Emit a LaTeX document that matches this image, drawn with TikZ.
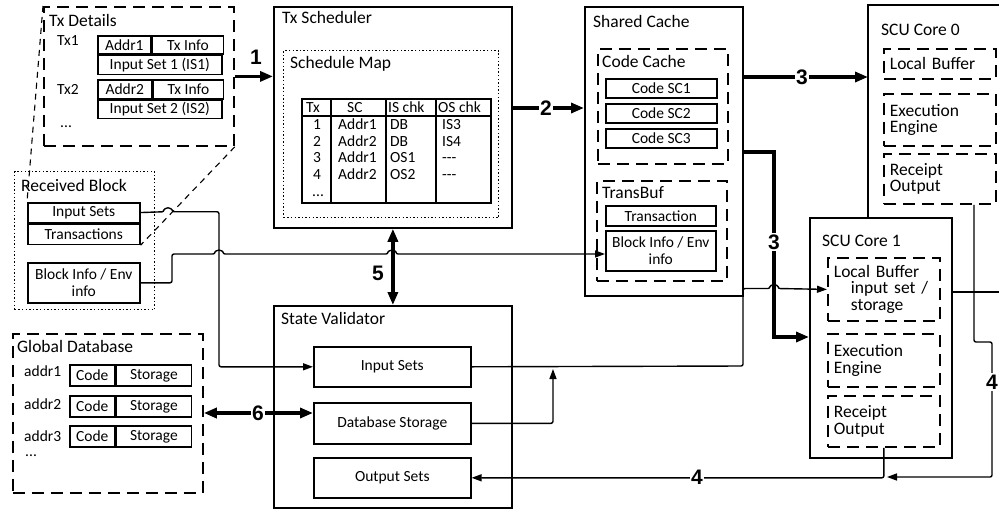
\documentclass[tikz,border=0pt]{standalone}
\usepackage{fontspec}
\setmainfont{Carlito}
\newfontfamily\numfont{Liberation Sans}
\usetikzlibrary{arrows.meta, positioning, calc}
\newcommand{\nodash}{-{}-{}-}
\tikzset{
  frame/.style={rectangle, draw=black, line width=1.8pt, fill=white, inner sep=0pt},
  dframe/.style={rectangle, draw=black, line width=1.8pt, dash pattern=on 12pt off 7pt,
                 inner sep=0pt},
  oframe/.style={rectangle, draw=black, line width=1.4pt, dash pattern=on 1.4pt off 2.2pt,
                 inner sep=0pt},
  cell/.style={rectangle, draw=black, line width=1.6pt, inner sep=0pt, align=center,
               font=\fontsize{15.5}{17}\selectfont},
  cbox/.style={dframe, inner xsep=6pt, inner ysep=0pt, text width=100pt, align=left,
               minimum width=112pt, font=\fontsize{17.5}{16.5}\selectfont},
  ttl/.style={inner sep=0pt, anchor=base west, font=\fontsize{17.5}{20}\selectfont},
  txt/.style={inner sep=0pt, anchor=base west, font=\fontsize{15.5}{17}\selectfont},
  num/.style={inner sep=1.5pt, fill=white, font=\numfont\bfseries\fontsize{21}{21}\selectfont},
  arr/.style={draw=black, line width=1.4pt, rounded corners=2pt,
              -{Triangle[length=10pt,width=7pt]}},
  thk/.style={draw=black, line width=3.3pt, -{Triangle[length=13pt,width=10pt]}},
  dthk/.style={draw=black, line width=3.3pt,
               {Triangle[length=13pt,width=10pt]}-{Triangle[length=13pt,width=10pt]}},
  callout/.style={draw=black, line width=1.1pt, dash pattern=on 6pt off 5pt},
}

\begin{document}
\begin{tikzpicture}[x=1pt, y=-1pt]
  \useasboundingbox (0,0) rectangle (999,509);
  \clip (0,0) rectangle (999,509);

  \node[dframe, anchor=north west, minimum width=190pt, minimum height=139pt] (txd) at (43,6) {};
  \node[ttl] (txdT) at ($(txd.north west)+(6,20)$) {Tx Details};
  \node[txt] (tx1) at (57,45) {Tx1};
  \node[cell, anchor=north west, minimum width=53pt, minimum height=18pt] (tx1a) at (97,35) {Addr1};
  \node[cell, right=0pt of tx1a, minimum width=71pt, minimum height=18pt] (tx1b) {Tx Info};
  \node[cell, below=0pt of tx1a.south west, anchor=north west, minimum width=124pt,
        minimum height=19pt] (tx1c) {Input Set 1 (IS1)};
  \node[txt] (tx2) at (57,94) {Tx2};
  \node[cell, anchor=north west, minimum width=54pt, minimum height=19pt] (tx2a) at (97,79) {Addr2};
  \node[cell, right=0pt of tx2a, minimum width=70pt, minimum height=19pt] (tx2b) {Tx Info};
  \node[cell, below=0pt of tx2a.south west, anchor=north west, minimum width=124pt,
        minimum height=18pt] (tx2c) {Input Set 2 (IS2)};
  \node[txt] (txdots) at (60,127) {...};

  \node[oframe, anchor=north west, minimum width=140pt, minimum height=138pt] (rb) at (14,171) {};
  \node[ttl] (rbT) at ($(rb.north west)+(7,20)$) {Received Block};
  \node[cell, anchor=north west, minimum width=112pt, minimum height=19.5pt] (rbin) at (27,202) {Input Sets};
  \node[cell, below=0pt of rbin, minimum width=112pt, minimum height=20.5pt] (rbtx) {Transactions};
  \node[cell, anchor=north west, minimum width=112pt, minimum height=40pt] (rbinfo) at (27,262)
    {Block Info / Env\\info};

  \node[frame, anchor=north west, minimum width=238pt, minimum height=221pt] (ts) at (273,6) {};
  \node[ttl] (tsT) at ($(ts.north west)+(9,17)$) {Tx Scheduler};
  \node[oframe, anchor=north west, minimum width=215pt, minimum height=167pt] (sm) at (283,50) {};
  \node[ttl] (smT) at ($(sm.north west)+(7,18)$) {Schedule Map};
  \node[frame, line width=1.6pt, anchor=north west, minimum width=189pt, minimum height=104pt]
    (tbl) at (301,98) {};
  \draw[line width=1.6pt] (tbl.north west) ++(0,18) -- ++(189,0);
  \foreach \cx in {331,386,436} \draw[line width=1.6pt] (\cx,98) -- (\cx,202);
  \foreach \hd/\cx in {Tx/306, SC/347, IS chk/388, OS chk/438}
    \node[txt] (hd\cx) at (\cx,112) {\hd};
  \foreach \n/\a/\b/\c/\yy in {1/Addr1/DB/IS3/129, 2/Addr2/DB/IS4/146,
                              3/Addr1/OS1/\nodash/162, 4/Addr2/OS2/\nodash/179} {
    \node[txt] (r\n t) at (313,\yy) {\n};
    \node[txt] (r\n s) at (338,\yy) {\a};
    \node[txt] (r\n i) at (390,\yy) {\b};
    \node[txt] (r\n o) at (442,\yy) {\c};
  }
  \node[txt] (r5t) at (312,196) {...};

  \node[frame, anchor=north west, minimum width=158pt, minimum height=289pt] (sc) at (584,6) {};
  \node[ttl] (scT) at ($(sc.north west)+(9,21)$) {Shared Cache};
  \node[dframe, anchor=north west, minimum width=130pt, minimum height=115pt] (cc) at (597,48) {};
  \node[ttl] (ccT) at ($(cc.north west)+(5,19)$) {Code Cache};
  \node[cell, anchor=north west, minimum width=111pt, minimum height=19pt] (csc1) at (605,78) {Code SC1};
  \node[cell, anchor=north west, minimum width=111pt, minimum height=19pt] (csc2) at (605,103) {Code SC2};
  \node[cell, anchor=north west, minimum width=111pt, minimum height=19pt] (csc3) at (605,128) {Code SC3};
  \node[dframe, anchor=north west, minimum width=130pt, minimum height=100pt] (tb) at (596,180) {};
  \node[ttl] (tbT) at ($(tb.north west)+(6,18)$) {TransBuf};
  \node[cell, anchor=north west, minimum width=110pt, minimum height=20pt] (tbtx) at (605,205) {Transaction};
  \node[cell, anchor=north west, minimum width=110pt, minimum height=40pt] (tbinfo) at (605,230)
    {Block Info / Env\\info};

  \node[anchor=north west, minimum width=150pt, minimum height=300pt, inner sep=0pt] (c0) at (868,5) {};
  \draw[line width=1.8pt] (c0.south west) |- (c0.north east);
  \node[ttl] (c0T) at ($(c0.north west)+(13,30)$) {SCU Core 0};
  \node[cbox, anchor=north west, minimum height=30pt] (c0lb) at (883,48) {Local Buffer};
  \node[cbox, anchor=north west, minimum height=52pt] (c0ee) at (883,93) {Execution\\Engine};
  \node[cbox, anchor=north west, minimum height=50pt] (c0ro) at (883,153) {Receipt\\Output};

  \node[frame, anchor=north west, minimum width=142pt, minimum height=240pt] (c1) at (809,217) {};
  \node[ttl] (c1T) at ($(c1.north west)+(13,29)$) {SCU Core 1};
  \node[cbox, anchor=north west, minimum height=63pt] (c1lb) at (827,257)
    {Local Buffer\\\hspace*{17pt}input set /\\\hspace*{17pt}storage};
  \node[cbox, anchor=north west, minimum height=53pt] (c1ee) at (827,333) {Execution\\Engine};
  \node[cbox, anchor=north west, minimum height=51pt] (c1ro) at (827,395) {Receipt\\Output};

  \node[dframe, anchor=north west, minimum width=190pt, minimum height=159pt] (gdb) at (12,333) {};
  \node[ttl] (gdbT) at ($(gdb.north west)+(5,19)$) {Global Database};
  \foreach \k/\yy/\by in {1/376/364, 2/409/395, 3/441/425} {
    \node[txt] (ad\k) at (24,\yy) {addr\k};
    \node[cell, anchor=north west, minimum width=45pt, minimum height=21pt] (gc\k) at (69,\by) {Code};
    \node[cell, right=0pt of gc\k, minimum width=75pt, minimum height=21pt] (gs\k) {Storage};
  }
  \node[txt] (gdots) at (25,456) {...};

  \node[frame, anchor=north west, minimum width=238pt, minimum height=202pt] (sv) at (273,305) {};
  \node[ttl] (svT) at ($(sv.north west)+(8,19)$) {State Validator};
  \node[cell, anchor=north west, minimum width=157pt, minimum height=40pt] (svin) at (313,346) {Input Sets};
  \node[cell, anchor=north west, minimum width=157pt, minimum height=41pt] (svdb) at (313,402) {Database Storage};
  \node[cell, anchor=north west, minimum width=157pt, minimum height=40pt] (svout) at (313,457) {Output Sets};

  \draw[callout] (txd.north west) -- (rbin.north west);
  \draw[callout] (txd.south east) -- (rbtx.south east);

  \draw[arr] (rbin.east) -- (164,211.75) arc (180:0:4pt) -- (219,211.75) |- (svin.west);
  \draw[arr] (rbinfo.east) -| (172,254) -- (215,254) arc (180:0:4pt) -- (388,254)
    arc (180:0:4pt) -- (tbinfo.west |- 0,254);
  \draw[arr] (svin.east) -- (743,366) |- (770,288.5) arc (180:0:4pt) -- (c1lb.west);
  \draw[arr] (svdb.east) -| (553,369);
  \draw[arr] (c0ro.south -| 974,0) |- (992,342) |- (887,477);
  \draw[arr] (c1ro.south) |- (svout.east);
  \draw[line width=1.4pt] (c1.east |- 0,292) -- (1005,292);

  \draw[thk] (txd.east) -- (txd.east -| ts.west);
  \draw[thk] (ts.east |- 0,108) -- (sc.west |- 0,108);
  \draw[thk] (sc.east |- 0,77) -- (c0.west |- 0,77);
  \draw[thk] (sc.east |- 0,152) -| (774,337) -- (c1.west |- 0,337);
  \draw[dthk] (ts.south) -- (sv.north);
  \draw[dthk] (gdb.east |- 0,413) -- (svdb.west |- 0,413);

  \node[num, fill=none] (n1) at (256,57) {1};
  \node[num] (n2) at (546,108) {2};
  \node[num] (n3a) at (802,77) {3};
  \node[num] (n3b) at (774,242) {3};
  \node[num, fill=none] (n5) at (378,273) {5};
  \node[num] (n6) at (258,413) {6};
  \node[num] (n4a) at (992,382) {4};
  \node[num] (n4b) at (697,477) {4};
\end{tikzpicture}
\end{document}
